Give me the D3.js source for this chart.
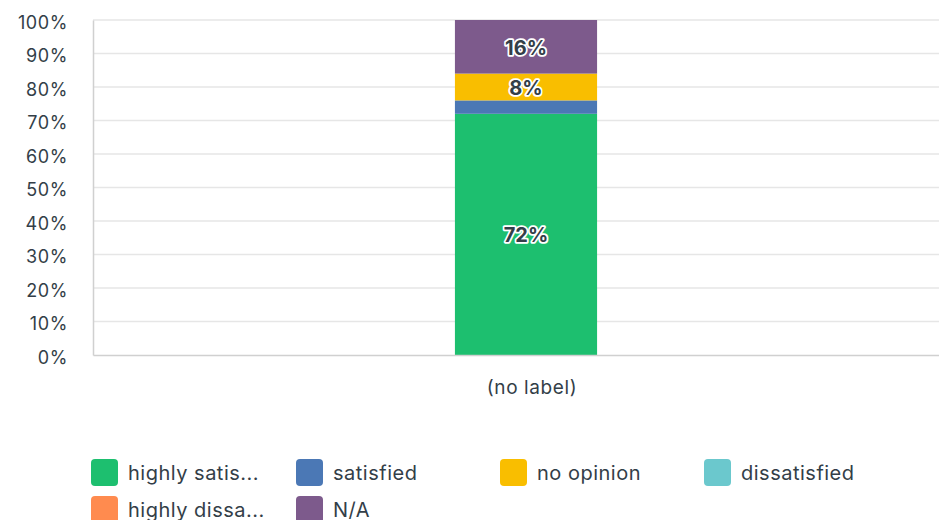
<!DOCTYPE html>
<html>
<head>
<meta charset="utf-8">
<script src="https://cdn.jsdelivr.net/npm/d3@7"></script>
<style>
  html, body { margin: 0; padding: 0; background: #fff; }
  svg { display: block; font-family: "Inter", "Open Sans", sans-serif; }
</style>
</head>
<body>
<svg id="chart" width="939" height="520"></svg>
<script>
const categories = ["(no label)"];
const seriesNames = ["highly satisfied", "satisfied", "no opinion", "dissatisfied", "highly dissatisfied", "N/A"];
const legendLabels = ["highly satis...", "satisfied", "no opinion", "dissatisfied", "highly dissa...", "N/A"];
const seriesValues = [0.72, 0.04, 0.08, 0.00, 0.00, 0.16];
const seriesColors = ["#1dbf6f", "#4b78b5", "#f9be00", "#6bc8cd", "#ff8b4f", "#7d5a8c"];
const tickValues = [0, 0.1, 0.2, 0.3, 0.4, 0.5, 0.6, 0.7, 0.8, 0.9, 1.0];

(function () {
const svg = d3.select("#chart");
const textColor = "#333e48";
const mLeft = 93, mRight = 959, mTop = 20, mBottom = 355;

const y = d3.scaleLinear().domain([0, 1]).range([mBottom, mTop]);
const x = d3.scaleBand().domain(categories).range([mLeft, mRight]).paddingInner(0.718).paddingOuter(0.718);

// gridlines
svg.append("g").selectAll("line").data(tickValues.filter(d => d > 0)).join("line")
  .attr("x1", mLeft).attr("x2", 939)
  .attr("y1", d => y(d)).attr("y2", d => y(d))
  .attr("stroke", "#e6e6e6").attr("stroke-width", 1.5);

// y axis
const yAxis = svg.append("g").attr("transform", `translate(${mLeft},0)`)
  .call(d3.axisLeft(y).tickValues(tickValues).tickFormat(d3.format(".0%")).tickSize(0).tickPadding(25));
yAxis.select(".domain").attr("stroke", "#d0d0d0").attr("stroke-width", 1.5);
yAxis.selectAll("text").attr("fill", textColor).style("font-size", "18px").style("letter-spacing", "0.6px")
  .style("font-family", "Inter, sans-serif").attr("dy", "0.45em");

// stacked bars
const stackData = [Object.fromEntries(seriesNames.map((s, i) => [s, seriesValues[i]]))];
const stacked = d3.stack().keys(seriesNames)(stackData);
const barG = svg.append("g");
stacked.forEach((layer, i) => {
  layer.forEach((seg, j) => {
    if (seg[1] - seg[0] <= 0) return;
    barG.append("rect")
      .attr("x", x(categories[j])).attr("width", x.bandwidth())
      .attr("y", y(seg[1])).attr("height", y(seg[0]) - y(seg[1]))
      .attr("fill", seriesColors[i]);
  });
});

// bar labels
stacked.forEach((layer, i) => {
  layer.forEach((seg, j) => {
    const v = seg[1] - seg[0];
    if (v < 0.05) return;
    const lbl = d3.format(".0%")(v);
    const cx = x(categories[j]) + x.bandwidth() / 2;
    const cy = y((seg[0] + seg[1]) / 2);
    barG.append("text").attr("x", cx).attr("y", cy).attr("dy", "0.4em")
      .attr("text-anchor", "middle").style("font-size", "20px").style("font-weight", "700")
      .attr("fill", "none").attr("stroke", "#fff").attr("stroke-width", 3.5).attr("stroke-linejoin", "round")
      .text(lbl);
    barG.append("text").attr("x", cx).attr("y", cy).attr("dy", "0.4em")
      .attr("text-anchor", "middle").style("font-size", "20px").style("font-weight", "700")
      .attr("fill", textColor).text(lbl);
  });
});

// x axis
const xAxis = svg.append("g").attr("transform", `translate(0,${mBottom})`)
  .call(d3.axisBottom(x).tickSize(0).tickPadding(26));
xAxis.select(".domain").attr("stroke", "#d0d0d0").attr("stroke-width", 1.5);
xAxis.selectAll("text").attr("fill", textColor).style("font-size", "19px").style("letter-spacing", "0.6px")
  .style("font-family", "Inter, sans-serif").attr("dx", "6");

// legend
const legendX = [91, 296, 500, 704];
const legendY = [473, 510];
legendLabels.forEach((lbl, i) => {
  const col = i % 4, row = Math.floor(i / 4);
  const g = svg.append("g").attr("transform", `translate(${legendX[col]},${legendY[row]})`);
  g.append("rect").attr("x", 0).attr("y", -14).attr("width", 27).attr("height", 27).attr("rx", 4)
    .attr("fill", seriesColors[i]);
  g.append("text").attr("x", 37).attr("y", 0).attr("dy", "0.35em")
    .style("font-size", "20px").style("letter-spacing", "0.5px").attr("fill", textColor).text(lbl);
});
})();
</script>
</body>
</html>
